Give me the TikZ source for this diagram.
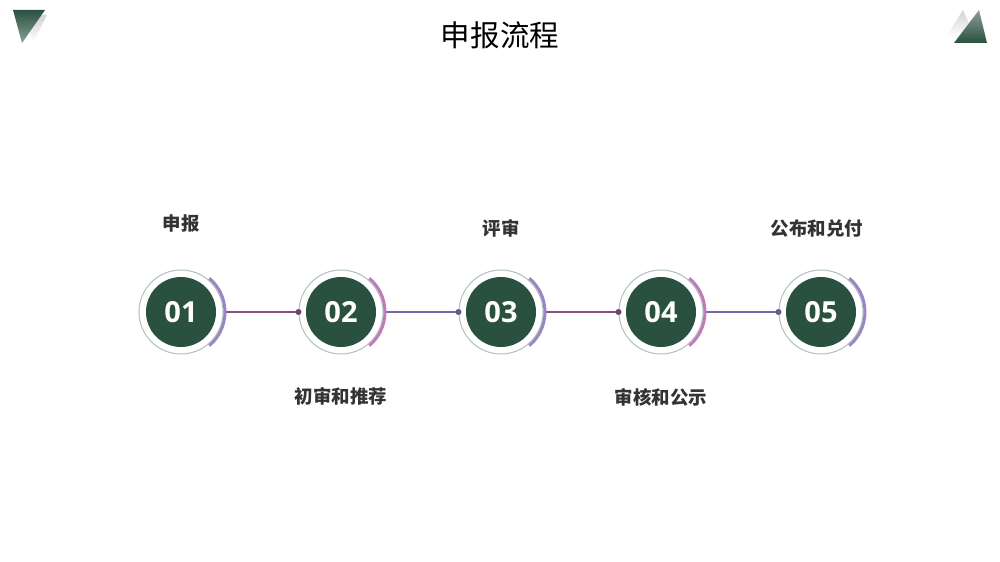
\documentclass[tikz,border=0pt]{standalone}
\usepackage{fontspec}
\setmainfont{Noto Sans CJK SC}
\newfontfamily\numfont{Open Sans}
\usetikzlibrary{positioning}
\definecolor{deepgreen}{HTML}{2A5140}
\definecolor{ringgray}{HTML}{B0C2C2}
\definecolor{lavender}{HTML}{9C86C2}
\definecolor{orchid}{HTML}{C07CB8}
\definecolor{plum}{HTML}{8A4C85}
\definecolor{violet}{HTML}{7A66A6}
\definecolor{labelgray}{HTML}{333333}
\tikzstyle{ring} = [circle, draw=ringgray, line width=0.6pt,
  minimum size=1.68cm, inner sep=0pt]
\tikzstyle{disc} = [circle, fill=deepgreen, minimum size=1.4cm, inner sep=0pt,
  text=white, font=\numfont\bfseries\fontsize{16.5}{16.5}\selectfont]
\tikzstyle{steplabel} = [inner sep=0pt, text=labelgray,
  font=\bfseries\fontsize{10.5}{12}\selectfont]
\tikzstyle{link} = [draw, line width=0.9pt]
\tikzstyle{arcmark} = [line width=1.7pt]

\begin{document}
\begin{tikzpicture}[node distance=3.2cm, auto]
    \useasboundingbox (0,0) rectangle (20,-11.24);

    % corner marks
    \shade[top color=gray!35, bottom color=white] (0.5,-0.3) -- (0.94,-0.3) -- (0.66,-0.86) -- cycle;
    \shade[top color=deepgreen, bottom color=deepgreen!55] (0.26,-0.2) -- (0.9,-0.2) -- (0.44,-0.86) -- cycle;
    \shade[top color=gray!35, bottom color=white] (19.26,-0.2) -- (18.92,-0.74) -- (19.5,-0.74) -- cycle;
    \shade[top color=deepgreen!55, bottom color=deepgreen] (19.58,-0.2) -- (19.08,-0.86) -- (19.74,-0.86) -- cycle;

    \node (title) at (10,-0.7) {\fontsize{16.8}{20}\selectfont 申报流程};

    \node [ring] (r1) at (3.62,-6.24) {};
    \node [ring, right of=r1] (r2) {};
    \node [ring, right of=r2] (r3) {};
    \node [ring, right of=r3] (r4) {};
    \node [ring, right of=r4] (r5) {};

    \path [link, plum] (r1.east) -- (r2.west);
    \path [link, violet] (r2.east) -- (r3.west);
    \path [link, plum] (r3.east) -- (r4.west);
    \path [link, violet] (r4.east) -- (r5.west);
    \fill [plum!85!black] (r2.west) circle (0.06);
    \fill [violet!85!black] (r3.west) circle (0.06);
    \fill [plum!85!black] (r4.west) circle (0.06);
    \fill [violet!85!black] (r5.west) circle (0.06);

    \node [disc] at (r1) (d1) {01};
    \node [disc] at (r2) (d2) {02};
    \node [disc] at (r3) (d3) {03};
    \node [disc] at (r4) (d4) {04};
    \node [disc] at (r5) (d5) {05};

    \draw [arcmark, lavender] (r1.center) ++(-50:0.88) arc (-50:50:0.88);
    \draw [arcmark, orchid] (r2.center) ++(-50:0.88) arc (-50:50:0.88);
    \draw [arcmark, lavender] (r3.center) ++(-50:0.88) arc (-50:50:0.88);
    \draw [arcmark, orchid] (r4.center) ++(-50:0.88) arc (-50:50:0.88);
    \draw [arcmark, lavender] (r5.center) ++(-50:0.88) arc (-50:50:0.88);

    \node [steplabel, above=0.74cm of r1] (apply) {申报};
    \node [steplabel, below=0.66cm of r2] (screen) {初审和推荐};
    \node [steplabel, above=0.64cm of r3] (review) {评审};
    \node [steplabel, below=0.68cm of r4] (publicity) {审核和公示};
    \node [steplabel, above=0.64cm of r5, xshift=-0.08cm] (payout) {公布和兑付};

  \end{tikzpicture}
\end{document}
